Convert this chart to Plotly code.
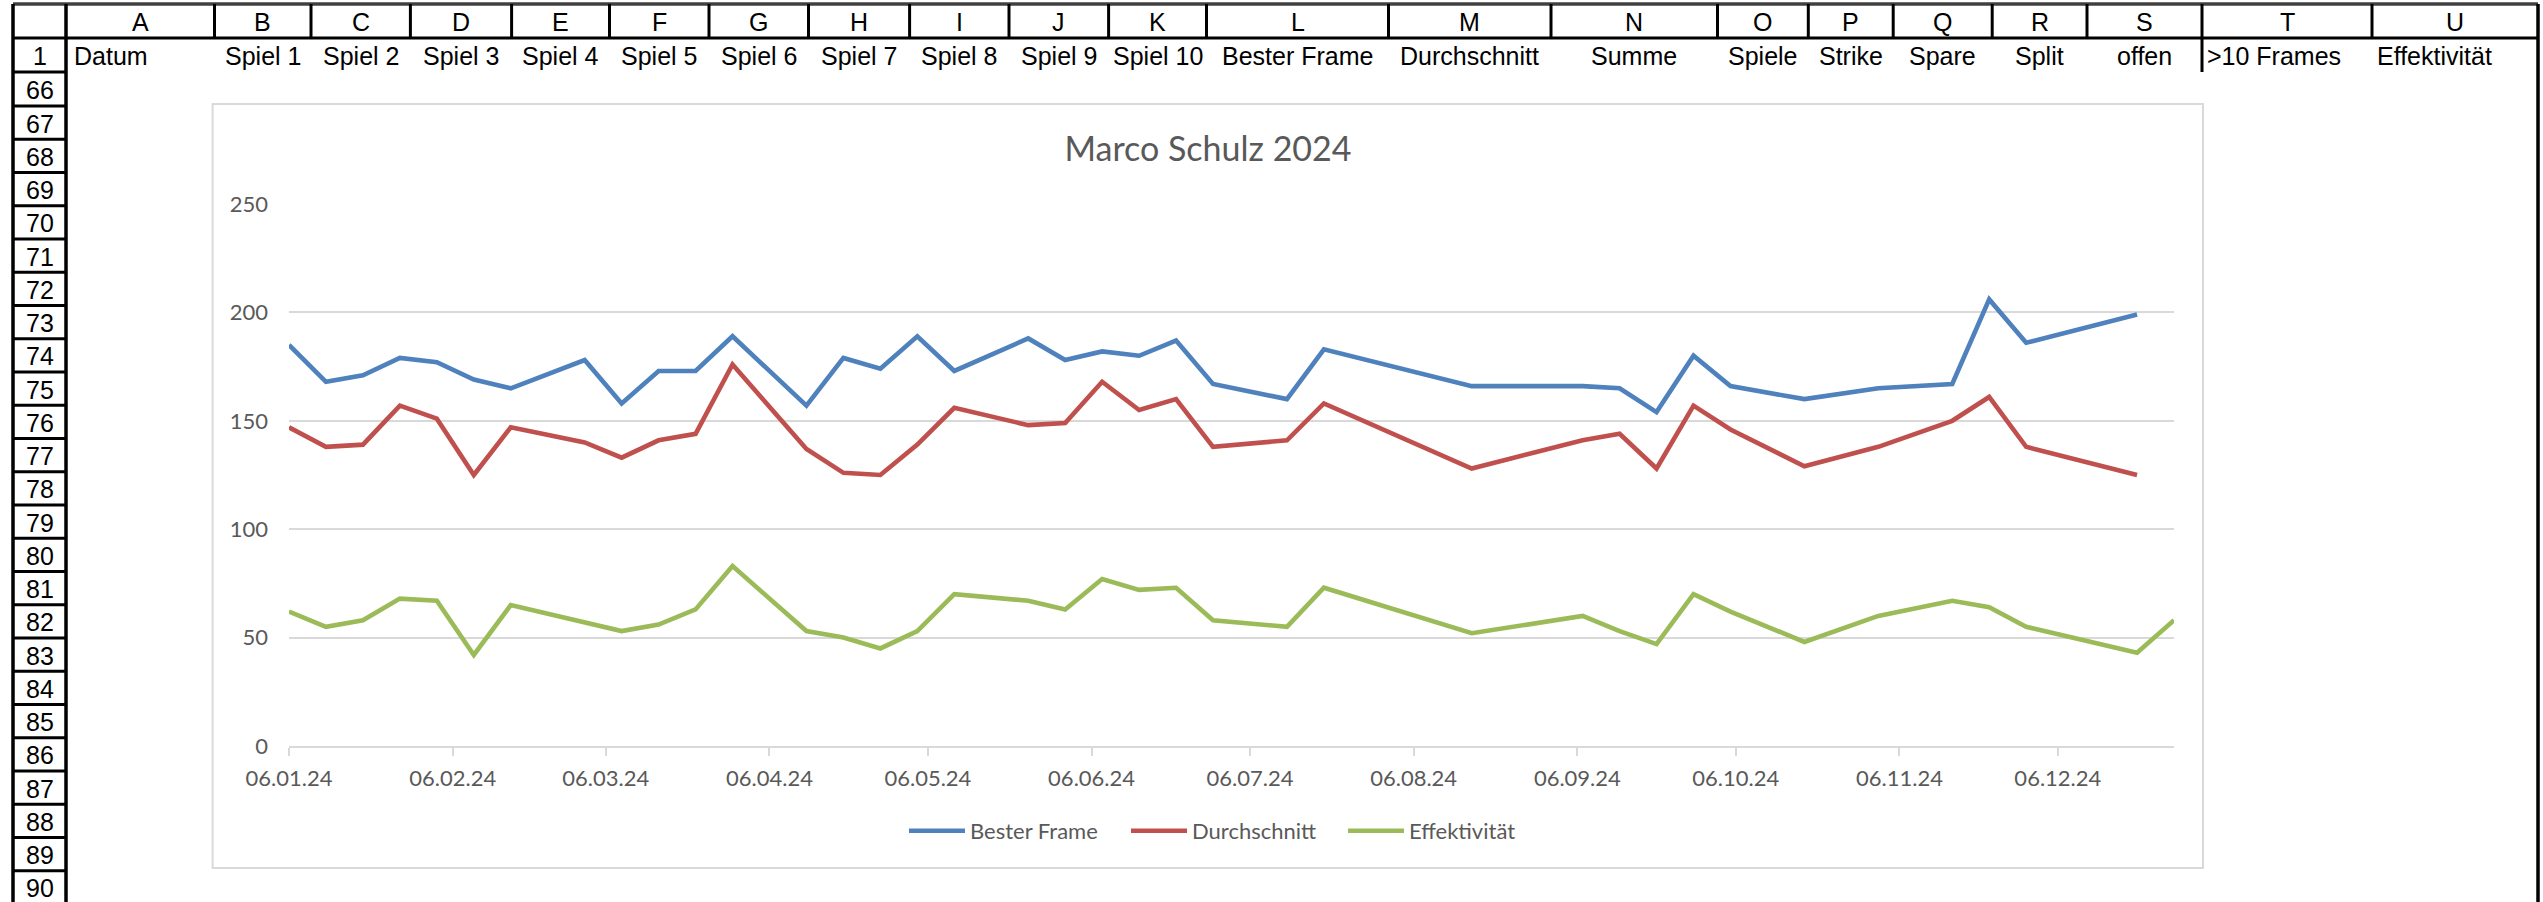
import plotly.graph_objects as go

# ---------------- data ----------------
dates = ["2024-01-06", "2024-01-13", "2024-01-20", "2024-01-27", "2024-02-03", "2024-02-10",
         "2024-02-17", "2024-03-02", "2024-03-09", "2024-03-16", "2024-03-23", "2024-03-30",
         "2024-04-13", "2024-04-20", "2024-04-27", "2024-05-04", "2024-05-11", "2024-05-25",
         "2024-06-01", "2024-06-08", "2024-06-15", "2024-06-22", "2024-06-29", "2024-07-13",
         "2024-07-20", "2024-08-17", "2024-09-07", "2024-09-14", "2024-09-21", "2024-09-28",
         "2024-10-05", "2024-10-19", "2024-11-02", "2024-11-16", "2024-11-23", "2024-11-30",
         "2024-12-21", "2024-12-28"]
bester_frame = [185, 168, 171, 179, 177, 169, 165, 178, 158, 173, 173, 189,
                157, 179, 174, 189, 173, 188, 178, 182, 180, 187, 167, 160,
                183, 166, 166, 165, 154, 180, 166, 160, 165, 167, 206, 186,
                199, None]
durchschnitt = [147, 138, 139, 157, 151, 125, 147, 140, 133, 141, 144, 176,
                137, 126, 125, 139, 156, 148, 149, 168, 155, 160, 138, 141,
                158, 128, 141, 144, 128, 157, 146, 129, 138, 150, 161, 138,
                125, None]
effektivitaet = [62, 55, 58, 68, 67, 42, 65, 57, 53, 56, 63, 83,
                 53, 50, 45, 53, 70, 67, 63, 77, 72, 73, 58, 55,
                 73, 52, 60, 53, 47, 70, 62, 48, 60, 67, 64, 55,
                 43, 58]
series_names = ["Bester Frame", "Durchschnitt", "Effektivität"]
x_tick_dates = ["2024-%02d-06" % m for m in range(1, 13)]
y_ticks = [0, 50, 100, 150, 200, 250]
chart_title = "Marco Schulz 2024"

col_letters = ["A", "B", "C", "D", "E", "F", "G", "H", "I", "J", "K", "L", "M", "N",
               "O", "P", "Q", "R", "S", "T", "U"]
row1_texts = ["Datum", "Spiel 1", "Spiel 2", "Spiel 3", "Spiel 4", "Spiel 5", "Spiel 6",
              "Spiel 7", "Spiel 8", "Spiel 9", "Spiel 10", "Bester Frame", "Durchschnitt",
              "Summe", "Spiele", "Strike", "Spare", "Split", "offen", ">10 Frames",
              "Effektivität"]
row_numbers = list(range(66, 91))

# ---------------- geometry (pixels) ----------------
W, H = 2543, 902
def fx(x):
    return x / W
def fy(y):
    return 1 - y / H

col_edges = [66, 214.5, 311, 410.4, 511.6, 609.5, 709, 808.5, 909.6, 1009, 1108.6,
             1206.5, 1388.5, 1551, 1717.5, 1808.3, 1893.2, 1992.2, 2087, 2202, 2372, 2538]
LEFT, RNCOL, RIGHT = 13, 66, 2538
TOP, HDR_B, ROW1_B, ROW66_B, ROWH = 4, 38, 72, 106, 33.25

colors = ["#4f81bd", "#c0504d", "#9bbb59"]
legend_widths = [151, 146, 110]
series = [bester_frame, durchschnitt, effektivitaet]

fig = go.Figure()
for name, vals, c, lw in zip(series_names, series, colors, legend_widths):
    fig.add_trace(go.Scatter(x=dates, y=vals, name=name, mode="lines",
                             line=dict(color=c, width=4.6), connectgaps=False,
                             legendwidth=lw))

chart_font = "Lato"
gray_txt = "#595959"
grid = "#d9d9d9"

shapes = []
# chart frame
shapes.append(dict(type="rect", xref="paper", yref="paper", x0=fx(212.6), x1=fx(2203),
                   y0=fy(868), y1=fy(104), line=dict(color=grid, width=2), layer="below"))
blk = "#000000"
def hline(x0, x1, y, w=2.5, c=blk):
    shapes.append(dict(type="line", xref="paper", yref="paper", x0=fx(x0), x1=fx(x1),
                       y0=fy(y), y1=fy(y), line=dict(color=c, width=w)))
def vline(x, y0, y1, w=2.5, c=blk):
    shapes.append(dict(type="line", xref="paper", yref="paper", x0=fx(x), x1=fx(x),
                       y0=fy(y0), y1=fy(y1), line=dict(color=c, width=w)))

hline(LEFT, RIGHT, TOP, 3.5, "#404040")
hline(LEFT, RIGHT, HDR_B, 3)
for xe in col_edges[1:-1]:
    vline(xe, TOP, HDR_B, 3)
vline(LEFT, TOP, H + 5, 3.5)
vline(RNCOL, TOP, H + 5, 3.5)
vline(RIGHT, TOP, H + 5, 3.5)
vline(2202, HDR_B, ROW1_B, 3)
hline(LEFT, RNCOL, ROW1_B, 3)
row_bottoms = [ROW66_B + i * ROWH for i in range(len(row_numbers))]
for yb in row_bottoms:
    hline(LEFT, RNCOL, yb, 3)

annotations = []
sheet_font = dict(family="Liberation Sans, Arial", size=25, color="#000000")
def txt(t, x, y, anchor="center"):
    annotations.append(dict(text=t, xref="paper", yref="paper", x=fx(x), y=fy(y),
                            xanchor=anchor, yanchor="middle", showarrow=False,
                            font=sheet_font))

for i, L in enumerate(col_letters):
    txt(L, (col_edges[i] + col_edges[i + 1]) / 2, (TOP + HDR_B) / 2 + 1)
for i, t in enumerate(row1_texts):
    if t == "Datum":
        txt(t, 72, (HDR_B + ROW1_B) / 2 + 1, "left")
    elif t in (">10 Frames", "Effektivität"):
        txt(t, col_edges[i] + 3, (HDR_B + ROW1_B) / 2 + 1, "left")
    else:
        txt(t, (col_edges[i] + col_edges[i + 1]) / 2, (HDR_B + ROW1_B) / 2 + 1)
txt("1", (LEFT + RNCOL) / 2, (HDR_B + ROW1_B) / 2 + 1)
prev = ROW1_B
for rn, yb in zip(row_numbers, row_bottoms):
    txt(str(rn), (LEFT + RNCOL) / 2, (prev + yb) / 2 + 1)
    prev = yb

fig.update_layout(
    template="none",
    width=W, height=H, autosize=False,
    margin=dict(l=0, r=0, t=0, b=0, pad=0, autoexpand=False),
    paper_bgcolor="white", plot_bgcolor="white",
    title=dict(text=chart_title, x=fx(1208), y=fy(149), xanchor="center", yanchor="middle",
               xref="paper", yref="paper", automargin=False,
               font=dict(family=chart_font, size=34, color=gray_txt)),
    xaxis=dict(type="date", domain=[fx(289), fx(2174)], automargin=False,
               range=["2024-01-06", "2024-12-28"],
               tickvals=x_tick_dates, tickformat="%d.%m.%y",
               ticks="outside", ticklen=8, tickcolor=grid, tickwidth=1.5,
               showline=True, linecolor=grid, linewidth=2,
               showgrid=False, zeroline=False, ticklabelstandoff=4,
               tickfont=dict(family=chart_font, size=22, color=gray_txt)),
    yaxis=dict(domain=[fy(746), fy(204)], range=[0, 250], tickvals=y_ticks, automargin=False,
               showgrid=True, gridcolor=grid, gridwidth=1.6, zeroline=False,
               showline=False, ticks="", ticklabelstandoff=20,
               tickfont=dict(family=chart_font, size=22, color=gray_txt)),
    legend=dict(orientation="h", x=fx(1214), xanchor="center", y=fy(831), yanchor="middle",
                font=dict(family=chart_font, size=22, color=gray_txt),
                itemwidth=56, bgcolor="rgba(0,0,0,0)", borderwidth=0, traceorder="normal"),
    shapes=shapes, annotations=annotations,
    hovermode=False,
)

fig.write_html("out.html", config={"displayModeBar": False, "staticPlot": False},
               post_script="document.body.style.margin='0px';document.body.style.overflow='hidden';")
